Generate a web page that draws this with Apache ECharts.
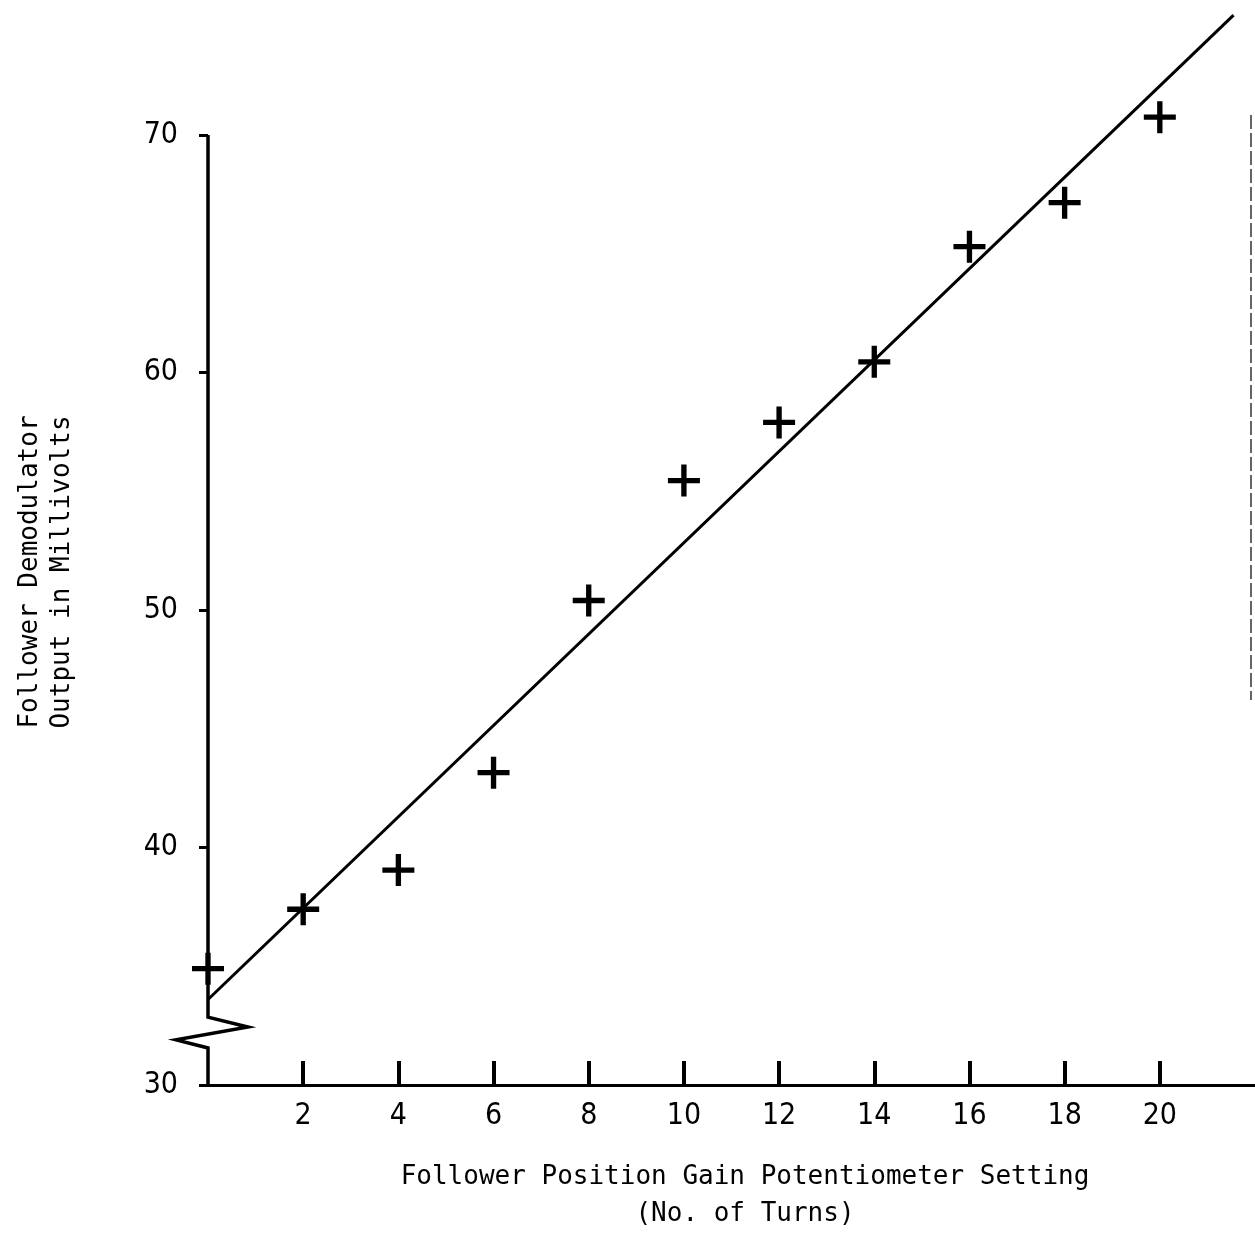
<!DOCTYPE html>
<html>
<head>
<meta charset="utf-8">
<title>Follower Demodulator Output</title>
<script src="https://cdn.jsdelivr.net/npm/echarts@6/dist/echarts.min.js"></script>
<style>
  html, body { margin: 0; padding: 0; background: #fff; }
  #chart { width: 1255px; height: 1233px; }
</style>
</head>
<body>
<div id="chart"></div>
<script>
  // measured points (+ marks)
  var turns = [0, 2, 4, 6, 8, 10, 12, 14, 16, 18, 20]
  var millivolts = [34.9, 37.4, 39.05, 43.15, 50.4, 55.45, 57.9, 60.45, 65.3, 67.15, 70.75]
  // hand drawn fit line, end points
  var fitLine = [[0, 33.6], [21.55, 75.05]]
  // y axis with the break zigzag near the origin
  var yAxisPath = [[0, 70], [0, 32.86], [0.84, 32.44], [-0.67, 31.9], [0, 31.56], [0, 30]]
  var xTicks = [2, 4, 6, 8, 10, 12, 14, 16, 18, 20]
  var yTicks = [30, 40, 50, 60, 70]

  var ink = '#000'
  var plusPath = 'path://M12.5,0H17.5V12.5H30V17.5H17.5V30H12.5V17.5H0V12.5H12.5Z'
  var labelFont = '"Liberation Sans Narrow", "DejaVu Sans Condensed", sans-serif'

  var chart = echarts.init(document.getElementById('chart'))
  chart.setOption({
    animation: false,
    backgroundColor: '#fff',
    grid: { left: 208, right: 0, top: 135, bottom: 148 },
    xAxis: {
      type: 'value',
      min: 0,
      max: 22,
      splitLine: { show: false },
      axisLine: { show: true, lineStyle: { color: ink, width: 3 } },
      axisTick: {
        show: true,
        inside: true,
        length: 24,
        customValues: xTicks,
        lineStyle: { color: ink, width: 4 }
      },
      axisLabel: {
        customValues: xTicks,
        margin: 16,
        color: ink,
        fontSize: 30,
        fontFamily: labelFont
      }
    },
    yAxis: {
      type: 'value',
      min: 30,
      max: 70,
      splitLine: { show: false },
      axisLine: { show: false },
      axisTick: {
        show: true,
        length: 9,
        customValues: yTicks,
        lineStyle: { color: ink, width: 3 }
      },
      axisLabel: {
        customValues: yTicks,
        margin: 30,
        color: ink,
        fontSize: 30,
        fontFamily: labelFont
      }
    },
    graphic: [
      {
        type: 'text',
        x: 745,
        y: 1196,
        style: {
          text: 'Follower Position Gain Potentiometer Setting\n(No. of Turns)',
          fill: ink,
          font: '26px "DejaVu Sans Mono", monospace',
          align: 'center',
          verticalAlign: 'middle',
          lineHeight: 37
        }
      },
      {
        type: 'text',
        x: 46,
        y: 572,
        rotation: Math.PI / 2,
        style: {
          text: 'Follower Demodulator\nOutput in Millivolts',
          fill: ink,
          font: '26px "DejaVu Sans Mono", monospace',
          align: 'center',
          verticalAlign: 'middle',
          lineHeight: 32
        }
      },
      {
        // scan edge on the right
        type: 'line',
        shape: { x1: 1251, y1: 115, x2: 1251, y2: 700 },
        style: { stroke: '#333', lineWidth: 1.5, lineDash: [14, 4] }
      }
    ],
    series: [
      {
        name: 'axis',
        type: 'custom',
        silent: true,
        clip: false,
        data: [0],
        renderItem: function (params, api) {
          return {
            type: 'polyline',
            shape: { points: yAxisPath.map(function (p) { return api.coord(p) }) },
            style: { stroke: ink, lineWidth: 3.5, fill: null, lineJoin: 'miter' }
          }
        }
      },
      {
        name: 'fit',
        type: 'line',
        data: fitLine,
        clip: false,
        symbol: 'none',
        lineStyle: { color: ink, width: 3 }
      },
      {
        name: 'measured',
        type: 'scatter',
        data: turns.map(function (t, i) { return [t, millivolts[i]] }),
        symbol: plusPath,
        symbolSize: [32, 32],
        clip: false,
        itemStyle: { color: ink, opacity: 1 }
      }
    ]
  })
</script>
</body>
</html>
